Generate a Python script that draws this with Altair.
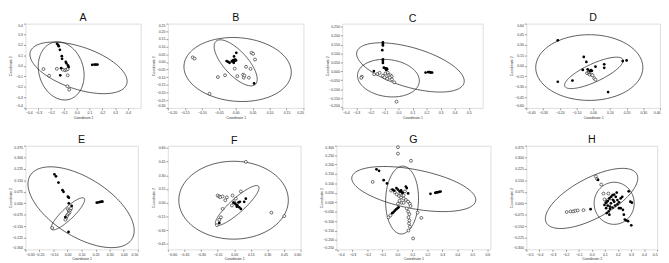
import altair as alt
import pandas as pd
import numpy as np

# ---------------- Panel A ----------------
a_fx = [-0.153, -0.145, -0.140, -0.131, -0.116, -0.114, -0.085, -0.080, -0.068, -0.063, -0.121, -0.128, 0.121, 0.138, 0.150, 0.162]
a_fy = [0.209, 0.197, 0.186, 0.151, 0.091, 0.066, 0.037, 0.023, 0.003, -0.011, -0.023, -0.091, 0.009, 0.011, 0.011, 0.011]
a_ox = [-0.259, -0.215, -0.155, -0.109, -0.090, -0.080, -0.070, -0.070, -0.073, -0.058]
a_oy = [-0.031, -0.094, -0.029, -0.037, -0.043, -0.037, -0.031, -0.091, -0.194, -0.226]
a_ell = [[0.0145, -0.020, 0.375, -0.157, -0.0567, -0.188],
         [-0.121, -0.0486, -0.0605, 0.271, 0.1685, 0.0523]]

# ---------------- Panel B ----------------
b_fx = [-0.0267, -0.0219, -0.0181, -0.0114, -0.0086, -0.0067, -0.0048, -0.0029, -0.0010, 0.0010, 0.0019, -0.0048, -0.0057, 0.0543]
b_fy = [0.0059, 0.0, -0.0059, 0.0040, 0.0099, 0.0, 0.0138, 0.0079, 0.0158, 0.0099, 0.0593, 0.0356, -0.0059, -0.140]
b_ox = [-0.1267, -0.1210, -0.0771, -0.0524, -0.0314, -0.0029, 0.0048, 0.0219, 0.0238, 0.0257, 0.0305, 0.0390, 0.0438, 0.0467, 0.0514, 0.0571]
b_oy = [0.0296, 0.0217, -0.2075, -0.0988, -0.0869, -0.0435, -0.0929, -0.0830, -0.1028, -0.0889, -0.0316, -0.1028, -0.0454, 0.0593, 0.0534, 0.0158]
b_ell = [[0.0057, -0.0494, 0.158, -0.0296, -0.00904, -0.2067],
         [0.0, -0.0059, 0.0571, -0.1423, -0.0278, -0.048]]

# ---------------- Panel C ----------------
c_fx = [-0.1106, -0.1106, -0.1106, -0.1152, -0.1106, -0.1106, -0.1106, -0.1037, -0.0945, -0.0853, -0.0806, -0.0876, -0.1751, 0.1935, 0.2120, 0.2235, 0.2304, 0.2396]
c_fy = [0.1617, 0.1533, 0.1450, 0.1183, 0.0667, 0.0583, 0.0467, 0.0200, 0.0167, 0.0167, 0.0117, 0.0083, 0.0017, -0.0067, -0.005, -0.005, -0.0067, -0.0067]
c_ox = [-0.2604, -0.2650, -0.1728, -0.1498, -0.1336, -0.1106, -0.0922, -0.0760, -0.0714, -0.0576, -0.0484, -0.0622, -0.0806, -0.0991, -0.0300, -0.0461, -0.0138]
c_oy = [-0.030, -0.0367, -0.0167, -0.015, -0.0083, -0.025, -0.0117, -0.0083, -0.0217, -0.0217, -0.0283, -0.035, -0.0417, -0.0333, -0.0617, -0.045, -0.170]
c_ell = [[0.0853, 0.0217, 0.380, -0.090, -0.0472, -0.1045],
         [-0.0714, -0.0383, 0.2189, -0.025, -0.0224, -0.1022]]

# ---------------- Panel D ----------------
d_fx = [-0.2117, -0.0563, -0.0408, -0.0330, -0.0621, -0.0214, -0.0136, -0.0078, 0.0136, 0.0660, 0.0660, 0.1767, 0.2000, -0.1243, -0.2117, 0.0893]
d_fy = [0.362, 0.126, 0.055, -0.051, -0.059, -0.076, -0.063, -0.072, -0.013, 0.021, -0.029, 0.067, 0.076, -0.211, -0.2275, -0.375]
d_ox = [-0.0369, -0.0272, -0.0214, -0.0097, -0.0039, 0.0058, 0.0136, -0.0252]
d_oy = [-0.105, -0.093, -0.126, -0.126, -0.135, -0.177, -0.198, -0.084]
d_ell = [[-0.0233, -0.0253, 0.3204, 0.0, 0.0, -0.4676],
         [0.0039, -0.1011, 0.1728, 0.1938, 0.0268, -0.1121]]

# ---------------- Panel E ----------------
e_fx = [-0.0939, -0.0827, -0.0648, -0.0358, -0.0290, 0.0022, 0.0089, 0.0089, 0.0290, -0.0156, 0.0067, 0.2078, 0.2212, 0.2324, 0.2436, 0.2480]
e_fy = [0.1886, 0.1757, 0.1350, 0.0857, 0.0750, 0.0429, 0.0364, 0.0, -0.0171, -0.090, -0.1864, 0.0043, 0.0064, 0.0086, 0.0107, 0.0107]
e_ox = [0.0022, 0.0089, 0.0134, 0.0067, -0.0022, -0.0067, -0.0112, -0.0156, 0.0201, 0.0246, -0.1095]
e_oy = [-0.0386, -0.0493, -0.060, -0.0686, -0.0771, -0.0857, -0.0986, -0.1071, -0.0429, -0.0321, -0.1607]
e_ell = [[0.0961, -0.0257, 0.3642, -0.2036, -0.1012, -0.1667],
         [0.0022, -0.0686, 0.1162, 0.1007, 0.027, -0.0287]]

# ---------------- Panel F ----------------
f_fx = [-0.006, 0.009, 0.021, 0.030, 0.039, 0.051, 0.045, 0.060, 0.090, 0.105, -0.135, 0.024]
f_fy = [0.0, -0.0102, -0.0239, -0.0307, 0.0034, 0.0102, -0.0512, -0.0682, 0.0102, 0.0443, -0.2216, -0.0443]
f_ox = [0.105, -0.150, -0.135, -0.126, -0.105, -0.066, -0.081, -0.015, 0.0, 0.015, 0.060, -0.021, -0.105, -0.120, -0.135, -0.156, 0.336, 0.453]
f_oy = [0.447, 0.0784, 0.0682, 0.0614, 0.0682, 0.058, 0.0273, 0.0784, 0.0034, 0.0443, 0.1228, -0.0307, -0.0682, -0.1603, -0.1876, -0.2455, -0.1091, -0.1466]
f_ell = [[-0.006, 0.0273, 0.495, 0.0, 0.0, -0.4263],
         [0.027, -0.0307, 0.192, 0.2114, 0.0459, -0.0539]]

# ---------------- Panel G ----------------
g_fx = [-0.139, -0.122, -0.091, -0.069, -0.032, -0.021, -0.006, 0.004, 0.015, 0.025, 0.029, 0.036, 0.057, 0.063, 0.072, 0.221, 0.253, 0.261, 0.269, 0.278, 0.288, -0.034, -0.025, -0.017, -0.008, 0.0, 0.008]
g_fy = [0.175, 0.167, 0.117, 0.100, 0.067, 0.062, 0.075, 0.067, 0.058, 0.063, 0.053, 0.050, 0.083, 0.075, 0.047, 0.045, 0.050, 0.052, 0.053, 0.055, 0.057, -0.058, -0.052, -0.045, -0.038, -0.032, -0.027]
g_ox = [0.004, 0.004, 0.091, -0.164, -0.042, -0.017, -0.004, 0.011, 0.025, 0.042, 0.057, 0.072, 0.084, 0.088, 0.063, 0.072, 0.080, 0.074, 0.080, 0.078, 0.084, 0.074, 0.105, 0.160, 0.135, 0.015, 0.029, 0.004, 0.042, -0.059, -0.046, 0.042, 0.021, 0.051]
g_oy = [0.292, 0.258, 0.220, 0.108, 0.062, 0.053, 0.042, 0.033, 0.025, 0.020, 0.012, 0.003, -0.008, -0.020, -0.033, -0.050, -0.063, -0.080, -0.097, -0.113, -0.130, -0.150, -0.192, -0.083, -0.055, 0.008, -0.003, -0.008, -0.003, -0.080, -0.070, 0.037, 0.047, 0.058]
g_ell = [[0.1095, 0.070, 0.4126, -0.0633, -0.0248, -0.1015],
         [0.0316, 0.0117, 0.0063, 0.180, 0.1095, -0.0023]]

# ---------------- Panel H ----------------
h_fx = [-0.0086, 0.0481, 0.1099, 0.1222, 0.1346, 0.1469, 0.1593, 0.1716, 0.1840, 0.1963, 0.1716, 0.1469, 0.1222, 0.1099, 0.1296, 0.1395, 0.1593, 0.1790, 0.1963, 0.2086, 0.2210, 0.2333, 0.2210, 0.2383, 0.2457, 0.2531, 0.2630, 0.2778, 0.3025, 0.2827, 0.3074, 0.2951, 0.1914, 0.1642, 0.1395, 0.1148, 0.2086, 0.0975, 0.1346]
h_fy = [-0.038, 0.1519, 0.0042, 0.0148, 0.0317, 0.0422, 0.0528, 0.057, 0.0422, 0.0211, 0.0106, 0.0, -0.0148, -0.0317, -0.0528, -0.0359, -0.0274, -0.0148, -0.0063, 0.0063, 0.0317, 0.0422, -0.0317, -0.0422, -0.0739, -0.1055, -0.1118, -0.1161, -0.1435, 0.0781, 0.0042, 0.0106, 0.0696, 0.0211, -0.0211, -0.0633, -0.0317, -0.0106, -0.0739]
h_ox = [-0.1914, -0.1617, -0.1420, -0.1247, -0.1074, -0.0630, 0.0309, 0.0407, 0.0728, 0.0901, 0.1272, 0.0975, 0.1222, 0.1099, 0.1469]
h_oy = [-0.057, -0.0528, -0.0528, -0.0485, -0.0464, -0.0443, 0.1751, 0.1583, 0.1224, 0.0633, 0.0633, 0.0253, 0.0211, 0.0063, 0.0317]
h_ell = [[-0.0012, 0.0317, 0.3457, 0.1583, 0.0723, -0.1152],
         [0.1716, 0.0, 0.1531, 0.0, 0.0, -0.137]]

# ---------------- Axes ----------------
a_xt = [-0.4, -0.3, -0.2, -0.1, 0.0, 0.1, 0.2, 0.3, 0.4]
a_yt = [-0.4, -0.3, -0.2, -0.1, 0.0, 0.1, 0.2, 0.3, 0.4]
b_xt = [-0.20, -0.15, -0.10, -0.05, 0.00, 0.05, 0.10, 0.15, 0.20]
b_yt = [-0.30, -0.25, -0.20, -0.15, -0.10, -0.05, 0.00, 0.05, 0.10, 0.15, 0.20, 0.25]
c_xt = [-0.4, -0.3, -0.2, -0.1, 0.0, 0.1, 0.2, 0.3, 0.4, 0.5]
c_yt = [-0.200, -0.150, -0.100, -0.050, 0.000, 0.050, 0.100, 0.150, 0.200, 0.250]
d_xt = [-0.40, -0.30, -0.20, -0.10, 0.00, 0.10, 0.20, 0.30, 0.40]
d_yt = [-0.60, -0.45, -0.30, -0.15, 0.00, 0.15, 0.30, 0.45, 0.60]
e_xt = [-0.30, -0.20, -0.10, 0.00, 0.10, 0.20, 0.30, 0.40, 0.50]
e_yt = [-0.300, -0.225, -0.150, -0.075, 0.000, 0.075, 0.150, 0.225, 0.300, 0.375]
f_xt = [-0.60, -0.45, -0.30, -0.15, 0.00, 0.15, 0.30, 0.45, 0.60]
f_yt = [-0.45, -0.30, -0.15, 0.00, 0.15, 0.30, 0.45, 0.60]
g_xt = [-0.4, -0.3, -0.2, -0.1, 0.0, 0.1, 0.2, 0.3, 0.4, 0.5, 0.6]
g_yt = [-0.250, -0.200, -0.150, -0.100, -0.050, 0.000, 0.050, 0.100, 0.150, 0.200, 0.250, 0.300]
h_xt = [-0.5, -0.4, -0.3, -0.2, -0.1, 0.0, 0.1, 0.2, 0.3, 0.4, 0.5]
h_yt = [-0.300, -0.225, -0.150, -0.075, 0.000, 0.075, 0.150, 0.225, 0.300, 0.375]

FONT = "Liberation Sans"


def panel(name, fx, fy, ox, oy, ells, xdom, ydom, xt, yt, xfmt, yfmt, w, h, ext):
    filled = pd.DataFrame({"x": fx, "y": fy})
    opened = pd.DataFrame({"x": ox, "y": oy})
    t = np.linspace(0, 2 * np.pi, 145)
    frames = []
    for i, (cx, cy, ux, uy, vx, vy) in enumerate(ells):
        frames.append(pd.DataFrame({
            "x": cx + ux * np.cos(t) + vx * np.sin(t),
            "y": cy + uy * np.cos(t) + vy * np.sin(t),
            "e": i, "k": np.arange(len(t))}))
    ell = pd.concat(frames, ignore_index=True)
    xs = alt.Scale(domain=xdom, nice=False, zero=False)
    ys = alt.Scale(domain=ydom, nice=False, zero=False)
    xax = alt.Axis(values=xt, format=xfmt, title="Coordinate 1", labelFontSize=3.6,
                   titleFontSize=3.6, tickSize=2, labelPadding=1, titlePadding=1,
                   grid=False, domain=False, labelFlush=True, tickColor="#555",
                   labelColor="#333", titleColor="#333", titleFontWeight="normal",
                   labelFont=FONT, titleFont=FONT, tickWidth=0.6)
    yax = alt.Axis(values=yt, format=yfmt, title="Coordinate 2", labelFontSize=3.6,
                   titleFontSize=3.6, tickSize=2, labelPadding=1, titlePadding=1,
                   grid=False, domain=False, labelFlush=True, tickColor="#555",
                   labelColor="#333", titleColor="#333", titleFontWeight="normal",
                   labelFont=FONT, titleFont=FONT, tickWidth=0.6,
                   titleX=-13, minExtent=ext, maxExtent=ext)
    X = alt.X("x:Q", scale=xs, axis=xax)
    Y = alt.Y("y:Q", scale=ys, axis=yax)
    lines = alt.Chart(ell).mark_line(color="#111", strokeWidth=0.7, clip=True).encode(
        x=X, y=Y, detail="e:N", order="k:Q")
    op = alt.Chart(opened).mark_point(shape="circle", filled=True, fill="white",
                                      stroke="#111", strokeWidth=0.6, size=9,
                                      opacity=1).encode(x=X, y=Y)
    fl = alt.Chart(filled).mark_circle(color="#000", size=8, opacity=1).encode(x=X, y=Y)
    return alt.layer(lines, op, fl).properties(
        width=w, height=h,
        title=alt.TitleParams(name, fontSize=11, fontWeight="normal", font=FONT,
                              anchor="middle", offset=0, color="#111"))


H1 = 87
H2 = 107
pA = panel("A", a_fx, a_fy, a_ox, a_oy, a_ell, [-0.4, 0.5], [-0.4, 0.4], a_xt, a_yt, ".1f", ".1f", 119, H1, 10)
pB = panel("B", b_fx, b_fy, b_ox, b_oy, b_ell, [-0.2, 0.2], [-0.30, 0.25], b_xt, b_yt, ".2f", ".2f", 140, H1, 26)
pC = panel("C", c_fx, c_fy, c_ox, c_oy, c_ell, [-0.4, 0.6], [-0.205, 0.267], c_xt, c_yt, ".1f", ".3f", 145, H1, 38)
pD = panel("D", d_fx, d_fy, d_ox, d_oy, d_ell, [-0.4, 0.4], [-0.6, 0.6], d_xt, d_yt, ".2f", ".2f", 138, H1, 43)
pE = panel("E", e_fx, e_fy, e_ox, e_oy, e_ell, [-0.3, 0.5], [-0.3, 0.375], e_xt, e_yt, ".2f", ".3f", 116, H2, 10)
pF = panel("F", f_fx, f_fy, f_ox, f_oy, f_ell, [-0.6, 0.6], [-0.511, 0.624], f_xt, f_yt, ".2f", ".2f", 137, H2, 29)
pG = panel("G", g_fx, g_fy, g_ox, g_oy, g_ell, [-0.406, 0.621], [-0.25, 0.30], g_xt, g_yt, ".1f", ".3f", 159, H2, 35)
pH = panel("H", h_fx, h_fy, h_ox, h_oy, h_ell, [-0.5, 0.5], [-0.3, 0.375], h_xt, h_yt, ".1f", ".3f", 135, H2, 35)

row1 = alt.hconcat(pA, pB, pC, pD, spacing=0)
row2 = alt.hconcat(pE, pF, pG, pH, spacing=0)
chart = alt.vconcat(row1, row2, spacing=14).properties(
    padding={"left": 0, "top": 0, "right": 0, "bottom": 0}
).configure_view(stroke="#7a7a7a", strokeWidth=1).configure(background="white")

chart.save("out.html", embed_options={"renderer": "svg", "actions": False})
